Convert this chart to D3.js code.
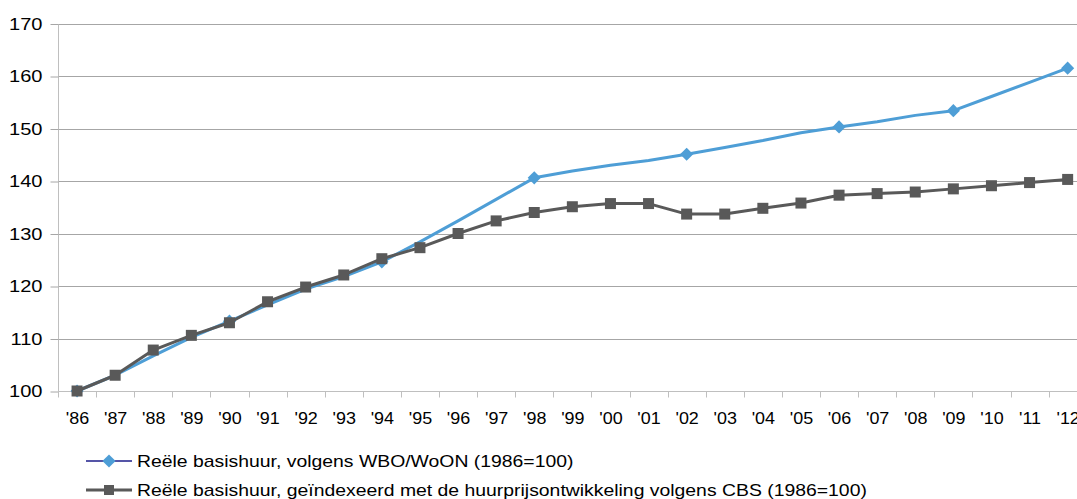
<!DOCTYPE html>
<html>
<head>
<meta charset="utf-8">
<script src="https://cdn.jsdelivr.net/npm/d3@7"></script>
<style>
  body { margin: 0; background: #fff; }
  svg { display: block; font-family: "Liberation Sans", Arial, sans-serif; }
</style>
</head>
<body>
<svg id="chart" width="1077" height="499"></svg>
<script>
/********/
/* data */
/********/

const years = ["'86", "'87", "'88", "'89", "'90", "'91", "'92", "'93", "'94", "'95",
  "'96", "'97", "'98", "'99", "'00", "'01", "'02", "'03", "'04", "'05", "'06",
  "'07", "'08", "'09", "'10", "'11", "'12"];

// Reële basishuur, volgens WBO/WoON (1986=100)
const woonValues = [100, 103.0, 106.7, 110.2, 113.3, 116.4, 119.4, 121.8, 124.6, 128.4,
  132.4, 136.5, 140.6, 141.9, 143.0, 143.9, 145.1, 146.4, 147.7, 149.2, 150.3,
  151.3, 152.5, 153.4, 156.1, 158.8, 161.5];
// survey years that carry a marker
const woonMarkerYears = ["'86", "'90", "'94", "'98", "'02", "'06", "'09", "'12"];

// Reële basishuur, geïndexeerd met de huurprijsontwikkeling volgens CBS (1986=100)
const cbsValues = [100, 103.0, 107.8, 110.6, 113.0, 117.0, 119.8, 122.1, 125.2, 127.3,
  130.0, 132.4, 134.0, 135.1, 135.7, 135.7, 133.7, 133.7, 134.8, 135.8, 137.3,
  137.6, 137.9, 138.5, 139.1, 139.7, 140.3];

const yTicks = [100, 110, 120, 130, 140, 150, 160, 170];

const legendLabels = [
  "Reële basishuur, volgens WBO/WoON (1986=100)",
  "Reële basishuur, geïndexeerd met de huurprijsontwikkeling volgens CBS (1986=100)",
];

/**********/
/* styles */
/**********/

const blue = "#4e9ed6";
const grey = "#595959";
const navy = "#1c1c8a";
const gridColour = "#a6a6a6";
const axisColour = "#bfbfbf";

// the source text is a little wider than plain Arial
function stretch(selection, k) {
  selection.each(function() {
    const w = this.getComputedTextLength();
    d3.select(this)
      .attr("textLength", w * k)
      .attr("lengthAdjust", "spacingAndGlyphs");
  });
}

/********/
/* view */
/********/

const svg = d3.select("#chart");

const left = 58;
const bandWidth = 38.1;
const x = d3.scaleBand()
  .domain(years)
  .range([left, left + bandWidth * years.length])
  .paddingInner(0)
  .paddingOuter(0);
const cx = d => x(d) + x.bandwidth() / 2;

const y = d3.scaleLinear().domain([100, 170]).range([391, 23.5]);

// gridlines
svg.append("g")
  .selectAll("line")
  .data(yTicks.filter(t => t !== 100))
  .join("line")
  .attr("x1", left)
  .attr("x2", 1077)
  .attr("y1", d => Math.round(y(d)) + 0.5)
  .attr("y2", d => Math.round(y(d)) + 0.5)
  .attr("stroke", gridColour)
  .attr("stroke-width", 1);

// y axis
const yAxis = svg.append("g")
  .attr("transform", `translate(${left + 0.5},0.5)`)
  .call(d3.axisLeft(y).tickValues(yTicks).tickSize(8).tickPadding(8));
yAxis.select(".domain").attr("stroke", axisColour).attr("d", `M0,${y(170)}V${y(100)}`);
yAxis.selectAll(".tick line").attr("stroke", gridColour);
yAxis.selectAll(".tick text")
  .attr("fill", "#000")
  .attr("font-size", 17)
  .attr("font-family", "Liberation Sans, Arial, sans-serif")
  .call(stretch, 1.18);

// x axis
const xAxis = svg.append("g")
  .attr("transform", `translate(0.5,${Math.round(y(100)) + 0.5})`);
xAxis.append("line")
  .attr("x1", left)
  .attr("x2", 1077)
  .attr("stroke", axisColour);
xAxis.selectAll("line.tick")
  .data(years)
  .join("line")
  .attr("class", "tick")
  .attr("x1", d => Math.round(x(d)))
  .attr("x2", d => Math.round(x(d)))
  .attr("y1", 0)
  .attr("y2", 6)
  .attr("stroke", axisColour);
xAxis.selectAll("text")
  .data(years)
  .join("text")
  .attr("x", d => cx(d))
  .attr("y", 27)
  .attr("dy", "0.32em")
  .attr("text-anchor", "middle")
  .attr("font-size", 16)
  .text(d => d)
  .call(stretch, 1.12);

// series
const line = d3.line()
  .x((d, i) => cx(years[i]))
  .y(d => y(d));

svg.append("path")
  .datum(woonValues)
  .attr("d", line)
  .attr("fill", "none")
  .attr("stroke", blue)
  .attr("stroke-width", 3)
  .attr("stroke-linejoin", "round");

const diamond = d3.symbol().type(d3.symbolDiamond2).size(110);
svg.append("g")
  .selectAll("path")
  .data(woonMarkerYears)
  .join("path")
  .attr("transform", d => `translate(${cx(d)},${y(woonValues[years.indexOf(d)])})`)
  .attr("d", diamond)
  .attr("fill", blue);

svg.append("path")
  .datum(cbsValues)
  .attr("d", line)
  .attr("fill", "none")
  .attr("stroke", grey)
  .attr("stroke-width", 3)
  .attr("stroke-linejoin", "round");

const sq = 11;
svg.append("g")
  .selectAll("rect")
  .data(cbsValues)
  .join("rect")
  .attr("x", (d, i) => cx(years[i]) - sq / 2)
  .attr("y", d => y(d) - sq / 2)
  .attr("width", sq)
  .attr("height", sq)
  .attr("fill", grey);

// legend
const legend = svg.append("g");
const legendRows = [
  { label: legendLabels[0], y: 461, lineColour: navy, lineWidth: 1.5, marker: "diamond" },
  { label: legendLabels[1], y: 490, lineColour: grey, lineWidth: 3, marker: "square" },
];
legendRows.forEach(row => {
  const g = legend.append("g").attr("transform", `translate(0,${row.y})`);
  g.append("line")
    .attr("x1", 86)
    .attr("x2", 132)
    .attr("stroke", row.lineColour)
    .attr("stroke-width", row.lineWidth);
  if (row.marker === "diamond") {
    g.append("path")
      .attr("transform", "translate(109,0)")
      .attr("d", diamond)
      .attr("fill", blue);
  } else {
    g.append("rect")
      .attr("x", 109 - 5)
      .attr("y", -5)
      .attr("width", 10)
      .attr("height", 10)
      .attr("fill", grey);
  }
  g.append("text")
    .attr("x", 137)
    .attr("dy", "0.35em")
    .attr("font-size", 17)
    .text(row.label)
    .call(stretch, 1.14);
});
</script>
</body>
</html>
